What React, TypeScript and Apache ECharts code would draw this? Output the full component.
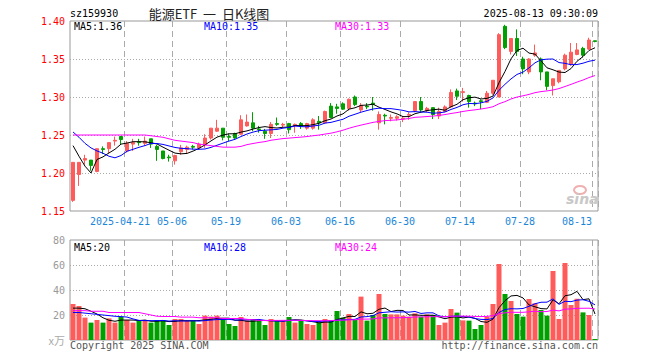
import React, { useEffect, useRef } from "react";
import * as echarts from "echarts";

const dates = [
  "2025-04-08","2025-04-09","2025-04-10","2025-04-11","2025-04-14","2025-04-15","2025-04-16","2025-04-17","2025-04-18","2025-04-21",
  "2025-04-22","2025-04-23","2025-04-24","2025-04-25","2025-04-28","2025-04-29","2025-04-30","2025-05-06","2025-05-07","2025-05-08",
  "2025-05-09","2025-05-12","2025-05-13","2025-05-14","2025-05-15","2025-05-16","2025-05-19","2025-05-20","2025-05-21","2025-05-22",
  "2025-05-23","2025-05-26","2025-05-27","2025-05-28","2025-05-29","2025-05-30","2025-06-03","2025-06-04","2025-06-05","2025-06-06",
  "2025-06-09","2025-06-10","2025-06-11","2025-06-12","2025-06-13","2025-06-16","2025-06-17","2025-06-18","2025-06-19","2025-06-20",
  "2025-06-23","2025-06-24","2025-06-25","2025-06-26","2025-06-27","2025-06-30","2025-07-01","2025-07-02","2025-07-03","2025-07-04",
  "2025-07-07","2025-07-08","2025-07-09","2025-07-10","2025-07-11","2025-07-14","2025-07-15","2025-07-16","2025-07-17","2025-07-18",
  "2025-07-21","2025-07-22","2025-07-23","2025-07-24","2025-07-25","2025-07-28","2025-07-29","2025-07-30","2025-07-31","2025-08-01",
  "2025-08-04","2025-08-05","2025-08-06","2025-08-07","2025-08-08","2025-08-11","2025-08-12","2025-08-13",
];

const opens = [
  1.164,1.198,1.217,1.217,1.202,1.232,1.232,1.242,1.248,1.229,
  1.238,1.241,1.239,1.245,1.235,1.229,1.221,1.216,1.228,1.231,
  1.235,1.233,1.237,1.246,1.255,1.259,1.248,1.252,1.251,1.262,
  1.266,1.258,1.255,1.252,1.265,1.263,1.265,1.262,1.265,1.259,
  1.259,1.268,1.266,1.288,1.287,1.291,1.285,1.300,1.283,1.288,
  1.292,1.266,1.276,1.272,1.272,1.271,1.276,1.282,1.294,1.282,
  1.286,1.275,1.281,1.287,1.308,1.306,1.302,1.292,1.295,1.293,
  1.305,1.300,1.393,1.360,1.377,1.350,1.333,1.355,1.350,1.333,
  1.315,1.320,1.337,1.343,1.356,1.364,1.363,1.374,
];
const closes = [
  1.214,1.214,1.219,1.210,1.232,1.231,1.240,1.243,1.244,1.239,
  1.240,1.240,1.242,1.238,1.231,1.219,1.220,1.223,1.233,1.234,
  1.234,1.238,1.246,1.259,1.259,1.247,1.247,1.246,1.270,1.267,
  1.259,1.257,1.252,1.264,1.264,1.264,1.257,1.264,1.262,1.265,
  1.270,1.266,1.281,1.273,1.285,1.284,1.297,1.290,1.289,1.287,
  1.290,1.277,1.275,1.273,1.274,1.272,1.277,1.294,1.283,1.285,
  1.277,1.281,1.287,1.306,1.301,1.307,1.294,1.291,1.294,1.305,
  1.322,1.382,1.365,1.377,1.360,1.337,1.350,1.358,1.333,1.314,
  1.324,1.335,1.355,1.359,1.362,1.355,1.375,1.373,
];
const lows = [
  1.162,1.183,1.211,1.203,1.201,1.225,1.226,1.236,1.237,1.227,
  1.229,1.236,1.236,1.233,1.216,1.218,1.215,1.211,1.224,1.225,
  1.231,1.231,1.233,1.244,1.254,1.243,1.242,1.245,1.250,1.261,
  1.255,1.253,1.245,1.246,1.262,1.260,1.252,1.253,1.258,1.257,
  1.257,1.257,1.265,1.272,1.278,1.283,1.282,1.288,1.280,1.284,
  1.282,1.257,1.264,1.268,1.269,1.267,1.270,1.280,1.280,1.280,
  1.271,1.271,1.280,1.286,1.296,1.294,1.286,1.288,1.284,1.292,
  1.303,1.300,1.363,1.356,1.354,1.330,1.330,1.353,1.322,1.309,
  1.302,1.318,1.335,1.341,1.355,1.352,1.362,1.372,
];
const highs = [
  1.214,1.214,1.224,1.217,1.232,1.235,1.240,1.248,1.248,1.242,
  1.245,1.245,1.248,1.245,1.237,1.229,1.224,1.224,1.237,1.236,
  1.237,1.240,1.251,1.259,1.270,1.259,1.252,1.253,1.276,1.277,
  1.280,1.262,1.258,1.267,1.273,1.266,1.266,1.265,1.267,1.266,
  1.272,1.275,1.282,1.292,1.291,1.293,1.298,1.302,1.292,1.292,
  1.300,1.281,1.278,1.277,1.276,1.275,1.280,1.294,1.300,1.287,
  1.286,1.286,1.289,1.310,1.311,1.312,1.303,1.294,1.297,1.308,
  1.322,1.384,1.395,1.377,1.389,1.353,1.351,1.369,1.352,1.333,
  1.324,1.335,1.357,1.371,1.371,1.366,1.378,1.374,
];
const volumes = [
  28.8,27.2,17.9,13.9,16,13.9,17.3,13.9,18.7,16,
  13.9,15.2,16,13.9,16,15.7,12,16.8,16.8,15.7,
  15.7,12.8,19.5,18.7,19.5,16.8,12.8,11.2,18.4,15.7,
  16.8,15.2,12,16.8,16,15.7,18.4,13.9,16,12.8,
  12,14,16.8,16,23.2,17.9,20.8,16,34.7,15.5,
  20,36.8,20.8,20.5,20.5,19.5,18.7,21.3,18.7,20.5,
  20,12,13.9,24.8,21.9,15.7,15.5,8.8,12,18.7,
  28.8,60.8,36.8,31.2,20.8,18.7,32.8,29.3,24,19.5,
  55.2,16.8,61.6,28,33,22.1,20,0.8,
];

const ma5Head = [1.236, 1.222, 1.209, 1.2];
const ma10Head = [1.254, 1.247, 1.239, 1.233, 1.229, 1.226, 1.222, 1.22, 1.223];
const ma30Head = [
  1.25,1.25,1.25,1.25,1.25,1.25,1.25,1.25,1.25,1.25,1.25,1.25,1.25,
  1.249,1.248,1.247,1.245,1.243,1.242,1.241,1.24,1.238,1.237,1.236,1.235,1.234,1.234,1.234,1.235,
];
const vma5Head = [25.5, 25.5, 25, 23];
const vma10Head = [22, 22, 21.5, 21, 20.5, 20, 19.5, 19, 18.7];
const vma30Head = [
  23.5,23.5,23.5,23,23,23,22,22,22,22,22,22,21,20,19,18.8,18.8,18.8,18.3,18.3,18.3,17.8,17.8,17.8,17.8,17.2,17.2,17.2,17.2,
];

const labelIdx = [9, 17, 26, 36, 45, 55, 65, 75, 87];
const legendPrice = ["MA5:1.36", "MA10:1.35", "MA30:1.33"];
const legendVol = ["MA5:20", "MA10:28", "MA30:24"];

const RED = "#ff5b5b";
const GREEN = "#00a000";
const MONO = '"DejaVu Sans Mono", "Liberation Mono", monospace';

function movingAvg(vals: number[], n: number, head: number[]) {
  return vals.map((_, i) => {
    if (i < n - 1) return head[i];
    let s = 0;
    for (let k = i - n + 1; k <= i; k++) s += vals[k];
    return +(s / n).toFixed(4);
  });
}

export default function App() {
  const ref = useRef<HTMLDivElement>(null);
  useEffect(() => {
    document.body.style.margin = "0";
    if (!ref.current) return;
    const chart = echarts.init(ref.current, undefined, { renderer: "svg" });
    const isLabel = (i: number) => labelIdx.includes(i);
    const xLabelRich = {
      n: { color: "#1c86d8", fontFamily: MONO, fontSize: 10, padding: [0, 6, 0, 0] },
      f: { color: "#1c86d8", fontFamily: MONO, fontSize: 10, padding: [0, 14, 0, 0] },
      e: { color: "#1c86d8", fontFamily: MONO, fontSize: 10, padding: [0, 36, 0, 0] },
    };
    const splitX = { show: true, interval: (i: number) => isLabel(i), lineStyle: { color: "#aaa", type: [6, 4] as any, width: 1 } };
    const maLine = (name: string, data: number[], color: string, xi: number) => ({
      type: "line", name, xAxisIndex: xi, yAxisIndex: xi, data, symbol: "none", smooth: false,
      lineStyle: { color, width: 1 }, z: 5, silent: true,
    });
    const option: any = {
      animation: false,
      backgroundColor: "#fff",
      grid: [
        { left: 70, top: 21, width: 528, height: 190, show: true, borderColor: "#999", borderWidth: 1, backgroundColor: "transparent", outerBoundsMode: "none" },
        { left: 70, top: 240, width: 528, height: 100, show: true, borderColor: "#999", borderWidth: 1, backgroundColor: "transparent", outerBoundsMode: "none" },
      ],
      xAxis: [
        {
          type: "category", gridIndex: 0, data: dates, boundaryGap: true,
          axisLine: { show: false }, axisTick: { show: false },
          axisLabel: {
            interval: (i: number) => isLabel(i), margin: 5, hideOverlap: false,
            formatter: (v: string, i: number) => (i === 9 ? `{f|${v}}` : i === 87 ? `{e|${v.slice(5)}}` : `{n|${v.slice(5)}}`),
            rich: xLabelRich,
          },
          splitLine: splitX,
        },
        {
          type: "category", gridIndex: 1, data: dates, boundaryGap: true,
          axisLine: { show: false }, axisTick: { show: false }, axisLabel: { show: false },
          splitLine: splitX,
        },
      ],
      yAxis: [
        {
          type: "value", gridIndex: 0, min: 1.15, max: 1.4, interval: 0.05, scale: true,
          axisLine: { show: false }, axisTick: { show: false },
          axisLabel: { color: "#f00", fontFamily: MONO, fontSize: 10, margin: 5, formatter: (v: number) => v.toFixed(2) },
          splitLine: { show: true, showMinLine: false, showMaxLine: false, lineStyle: { color: "#aaa", type: [1, 2] } },
        },
        {
          type: "value", gridIndex: 1, min: 0, max: 80, interval: 20,
          axisLine: { show: false }, axisTick: { show: false },
          axisLabel: { color: "#999", fontFamily: MONO, fontSize: 10, margin: 5, formatter: (v: number) => (v === 0 ? "" : String(v)) },
          splitLine: { show: true, showMinLine: false, showMaxLine: false, lineStyle: { color: "#aaa", type: [1, 2] } },
        },
      ],
      series: [
        {
          type: "candlestick", xAxisIndex: 0, yAxisIndex: 0, barWidth: 4,
          data: opens.map((o, i) => [o, closes[i], lows[i], highs[i]]),
          itemStyle: { color: RED, color0: GREEN, borderColor: RED, borderColor0: GREEN, borderWidth: 1 },
          z: 3, silent: true,
        },
        maLine("MA5", movingAvg(closes, 5, ma5Head), "#000", 0),
        maLine("MA10", movingAvg(closes, 10, ma10Head), "#0000ff", 0),
        maLine("MA30", movingAvg(closes, 30, ma30Head), "#ff00ff", 0),
        {
          type: "bar", xAxisIndex: 1, yAxisIndex: 1, barWidth: 5, silent: true, z: 3,
          data: volumes.map((v, i) => ({ value: v, itemStyle: { color: closes[i] >= opens[i] ? RED : GREEN } })),
        },
        maLine("VMA5", movingAvg(volumes, 5, vma5Head), "#000", 1),
        maLine("VMA10", movingAvg(volumes, 10, vma10Head), "#0000ff", 1),
        maLine("VMA30", movingAvg(volumes, 30, vma30Head), "#ff00ff", 1),
      ],
      graphic: [
        { type: "text", x: 70, y: 13, style: { text: "sz159930", fill: "#000", font: `10px ${MONO}`, verticalAlign: "middle" } },
        { type: "text", x: 209, y: 13, style: { text: "能源ETF  一  日K线图", fill: "#222", font: '13px "Noto Sans CJK SC", sans-serif', align: "center", verticalAlign: "middle" } },
        { type: "text", x: 598, y: 13, style: { text: "2025-08-13 09:30:09", fill: "#000", font: `10px ${MONO}`, align: "right", verticalAlign: "middle" } },
        { type: "text", x: 74, y: 26.5, z: 10, style: { text: legendPrice[0], fill: "#000", font: `10px ${MONO}`, verticalAlign: "middle" } },
        { type: "text", x: 204, y: 26.5, z: 10, style: { text: legendPrice[1], fill: "#0000ff", font: `10px ${MONO}`, verticalAlign: "middle" } },
        { type: "text", x: 335, y: 26.5, z: 10, style: { text: legendPrice[2], fill: "#ff00ff", font: `10px ${MONO}`, verticalAlign: "middle" } },
        { type: "text", x: 74, y: 247, z: 10, style: { text: legendVol[0], fill: "#000", font: `10px ${MONO}`, verticalAlign: "middle" } },
        { type: "text", x: 204, y: 247, z: 10, style: { text: legendVol[1], fill: "#0000ff", font: `10px ${MONO}`, verticalAlign: "middle" } },
        { type: "text", x: 335, y: 247, z: 10, style: { text: legendVol[2], fill: "#ff00ff", font: `10px ${MONO}`, verticalAlign: "middle" } },
        { type: "text", x: 65, y: 340, style: { text: "x万", fill: "#aaa", font: '11px "Noto Sans CJK SC", sans-serif', align: "right", verticalAlign: "middle" } },
        { type: "text", x: 70, y: 345.5, style: { text: "Copyright 2025 SINA.COM", fill: "#555", font: `10px ${MONO}`, verticalAlign: "middle" } },
        { type: "text", x: 598, y: 345.5, style: { text: "http://finance.sina.com.cn", fill: "#555", font: `10px ${MONO}`, align: "right", verticalAlign: "middle" } },
        { type: "ellipse", shape: { cx: 580, cy: 190, rx: 6, ry: 4 }, style: { fill: "none", stroke: "#f0b0b0", lineWidth: 2 }, z: 1 },
        { type: "text", x: 566, y: 199, z: 1, style: { text: "sina", fill: "#c8c8c8", font: 'italic bold 14px "DejaVu Sans", sans-serif', verticalAlign: "middle" } },
      ],
    };
    chart.setOption(option);
    return () => chart.dispose();
  }, []);
  return <div ref={ref} style={{ width: 660, height: 360 }} />;
}
